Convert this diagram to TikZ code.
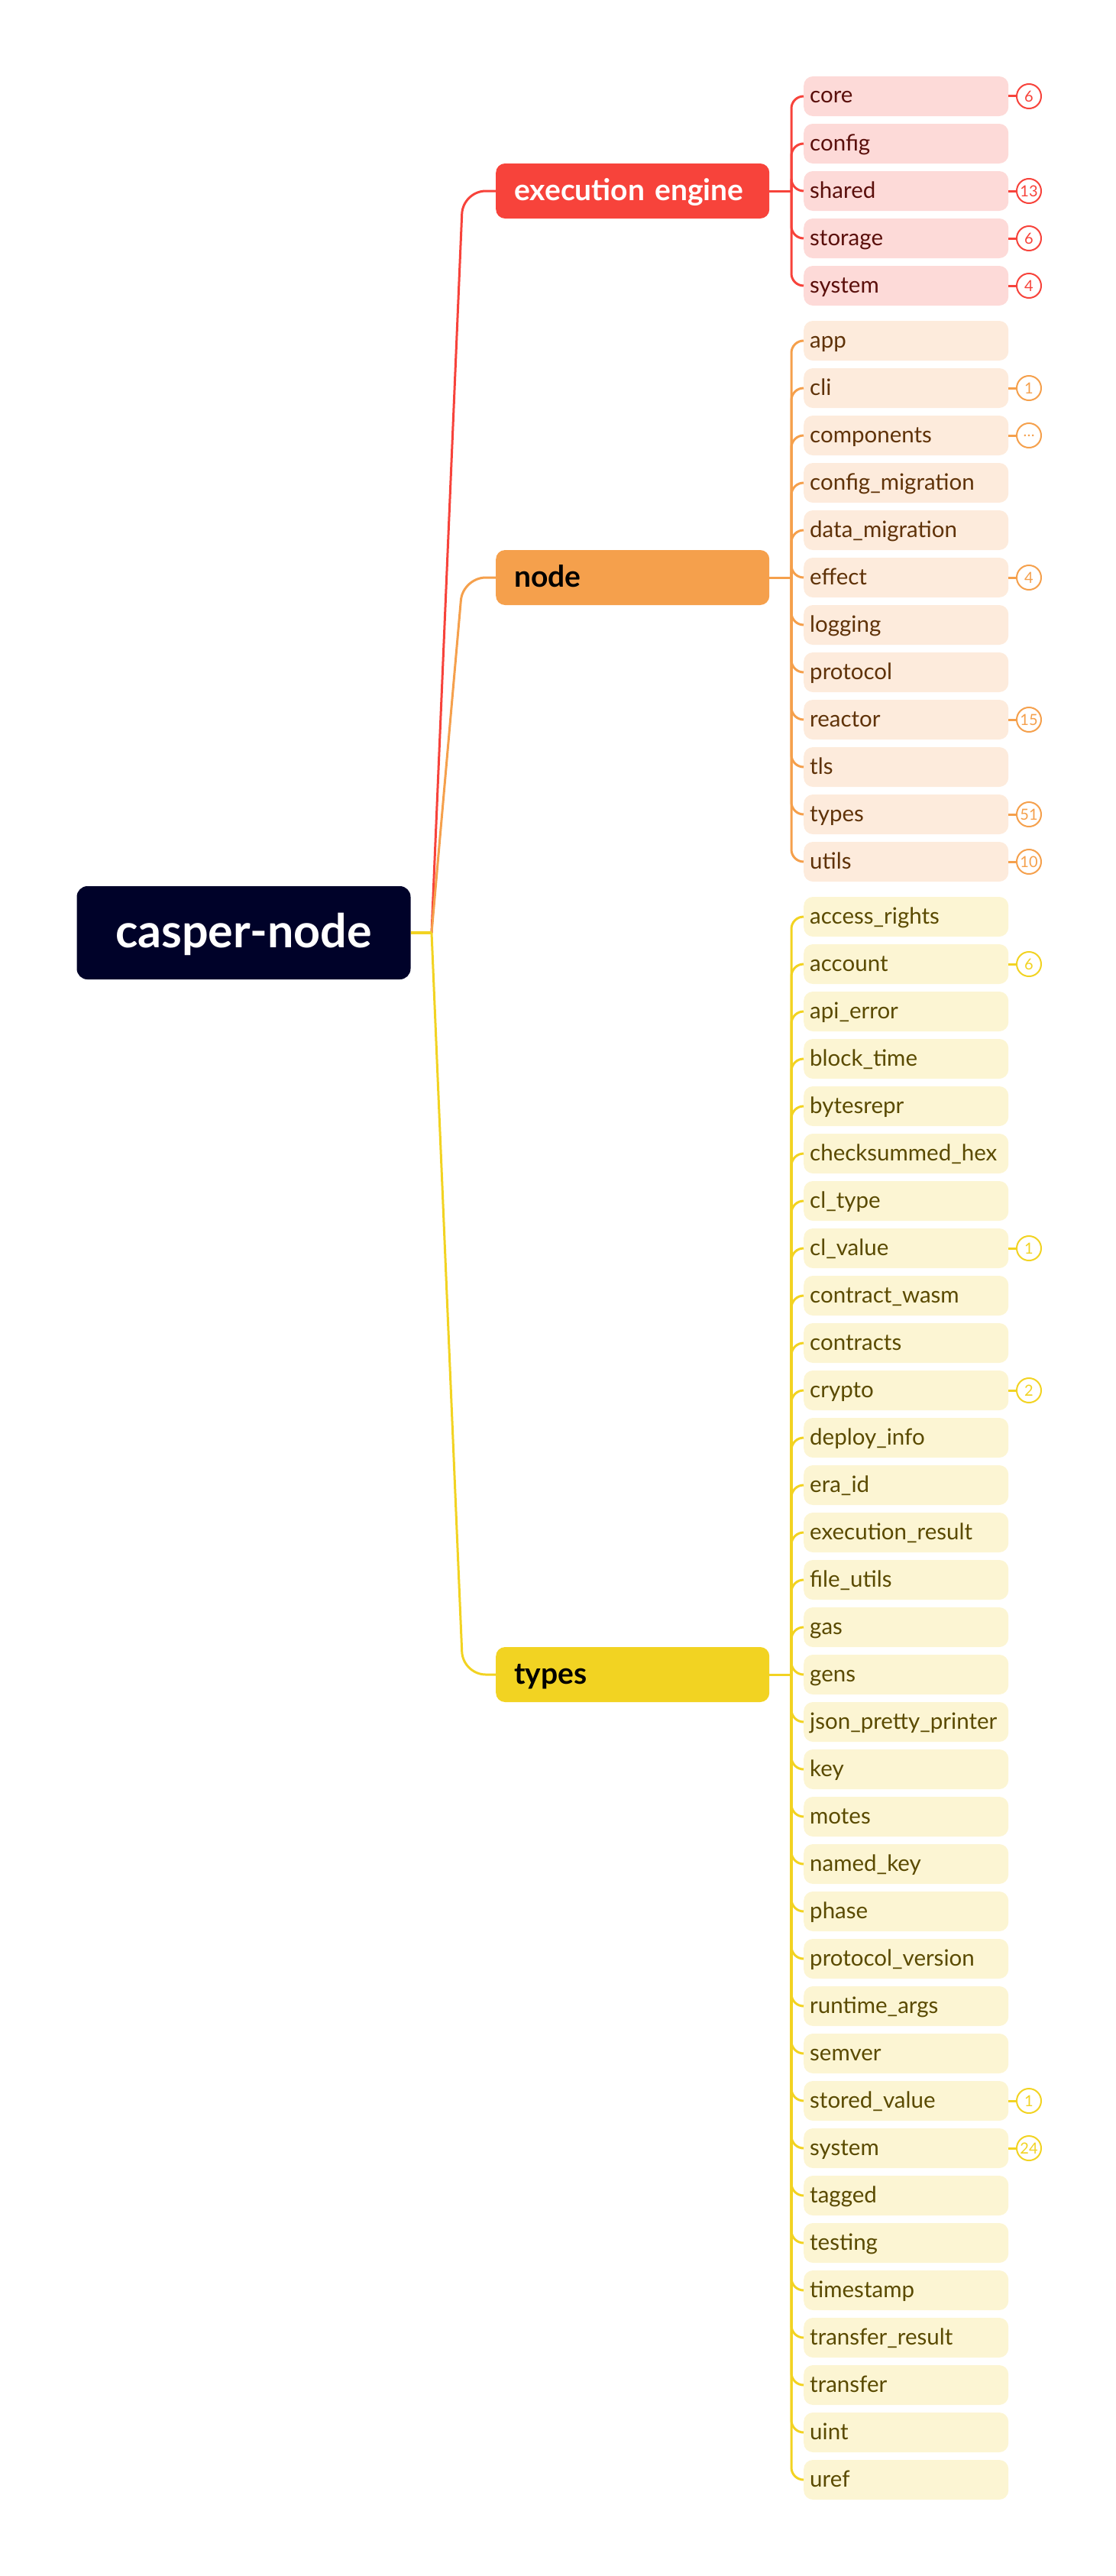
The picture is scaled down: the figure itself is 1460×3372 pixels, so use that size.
\documentclass[tikz,border=0pt]{standalone}
\usepackage{fontspec}
\setmainfont{Lato}
\definecolor{rootc}{HTML}{000229}
\definecolor{redc}{HTML}{F7433B}
\definecolor{orangec}{HTML}{F5A04C}
\definecolor{yellowc}{HTML}{F2D322}
\definecolor{redl}{HTML}{FDDAD8}
\definecolor{orangel}{HTML}{FDEBDC}
\definecolor{yellowl}{HTML}{FCF5D3}
\definecolor{redt}{HTML}{5A0F0B}
\definecolor{oranget}{HTML}{5F3208}
\definecolor{yellowt}{HTML}{5A4A00}
\begin{document}
\begin{tikzpicture}[x=1pt,y=-1pt,
  rootbox/.style={fill=rootc, rounded corners=14pt, minimum width=437pt, minimum height=122pt, inner sep=0pt,
    text=white, text height=44pt, text depth=6pt, font=\fontsize{61}{64}\selectfont\bfseries},
  mainbox/.style={rounded corners=12pt, anchor=west, text width=310pt, inner xsep=24pt, inner ysep=0pt,
    minimum height=72pt, align=left, text height=30pt, text depth=6pt, font=\fontsize{39}{42}\selectfont\bfseries},
  childbox/.style={rounded corners=12pt, anchor=west, text width=252pt, inner xsep=8pt, inner ysep=0pt,
    minimum height=52pt, align=left, text height=24pt, text depth=6pt, font=\fontsize{29.5}{32}\selectfont},
  badge/.style={circle, draw, fill=white, line width=2pt, minimum size=32pt, inner sep=0pt,
    font=\fontsize{20}{22}\selectfont},
  link/.style={line width=3pt},
]
\useasboundingbox (0,0) rectangle (1460,3372);

% root
\node[rootbox] (root) at (319,1221) {casper-node};
\coordinate (rj) at (565,1221);

% main topics
\node[mainbox, fill=redc, text=white] (ee) at (649,250) {\mbox{execution engine}};
\node[mainbox, fill=orangec, text=black] (nd) at (649,756) {node};
\node[mainbox, fill=yellowc, text=black] (ty) at (649,2192) {types};

% root branches
\draw[link, redc, rounded corners=30pt] (rj) -- (606,250) -- (ee.west);
\draw[link, orangec, rounded corners=30pt] (rj) -- (606,756) -- (nd.west);
\draw[link, yellowc, rounded corners=30pt] (rj) -- (606,2192) -- (ty.west);
\draw[line width=4pt, yellowc] (root.east) -- (rj);

% execution engine children
\coordinate (eej) at (1036,250);
\draw[link, redc] (ee.east) -- (eej);
\foreach \n [count=\i from 0] in {core,config,shared,storage,system} {
  \node[childbox, fill=redl, text=redt] (ee-\i) at (1052,126+62*\i) {\n};
  \draw[link, redc, rounded corners=16pt] (eej) |- (ee-\i.west);
}
\foreach \i/\b in {0/6,2/13,3/6,4/4} {
  \node[badge, draw=redc, text=redc] (eeb-\i) at (1347,126+62*\i) {\b};
  \draw[link, redc] (ee-\i.east) -- (eeb-\i);
}

% node children
\coordinate (ndj) at (1036,756);
\draw[link, orangec] (nd.east) -- (ndj);
\foreach \n [count=\i from 0] in {app,cli,components,config\_migration,data\_migration,effect,logging,protocol,reactor,tls,types,utils} {
  \node[childbox, fill=orangel, text=oranget] (nd-\i) at (1052,446+62*\i) {\n};
  \draw[link, orangec, rounded corners=16pt] (ndj) |- (nd-\i.west);
}
\foreach \i/\b in {1/1,2/…,5/4,8/15,10/51,11/10} {
  \node[badge, draw=orangec, text=orangec] (ndb-\i) at (1347,446+62*\i) {\b};
  \draw[link, orangec] (nd-\i.east) -- (ndb-\i);
}

% types children
\coordinate (tyj) at (1036,2192);
\draw[link, yellowc] (ty.east) -- (tyj);
\foreach \n [count=\i from 0] in {access\_rights,account,api\_error,block\_time,bytesrepr,checksummed\_hex,cl\_type,cl\_value,contract\_wasm,contracts,crypto,deploy\_info,era\_id,execution\_result,file\_utils,gas,gens,json\_pretty\_printer,key,motes,named\_key,phase,protocol\_version,runtime\_args,semver,stored\_value,system,tagged,testing,timestamp,transfer\_result,transfer,uint,uref} {
  \node[childbox, fill=yellowl, text=yellowt] (ty-\i) at (1052,1200+62*\i) {\n};
  \draw[link, yellowc, rounded corners=16pt] (tyj) |- (ty-\i.west);
}
\foreach \i/\b in {1/6,7/1,10/2,25/1,26/24} {
  \node[badge, draw=yellowc, text=yellowc] (tyb-\i) at (1347,1200+62*\i) {\b};
  \draw[link, yellowc] (ty-\i.east) -- (tyb-\i);
}
\end{tikzpicture}
\end{document}
